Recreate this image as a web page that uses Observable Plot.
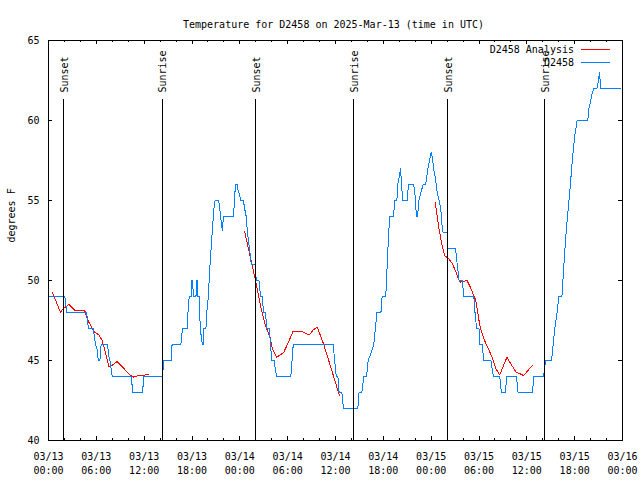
<!DOCTYPE html>
<html><head><meta charset="utf-8">
<script src="https://cdn.jsdelivr.net/npm/d3@7"></script>
<script src="https://cdn.jsdelivr.net/npm/@observablehq/plot@0.6"></script>
<style>body{margin:0;background:#fff} svg{display:block} svg path, svg line{shape-rendering:crispEdges}</style>
</head><body><div id="chart"></div>
<script>
const chartTitle = "Temperature for D2458 on 2025-Mar-13 (time in UTC)";
const yLabel = "degrees F";
const startTime = "2025-03-13T00:00:00Z";
const seriesNames = ["D2458 Analysis", "D2458"];
const seriesColors = ["#ff0000", "#0080ff"];

// observed (hours since start, deg F)
const obsHours = [0,2.05,2.3,4.77,4.9,5.0,5.6,5.75,5.9,6.1,6.25,6.45,6.6,7.4,7.55,7.7,8.0,10.4,10.55,11.8,11.95,14.3,14.45,15.4,15.5,16.6,16.8,17.4,17.5,17.65,17.9,17.95,18.1,18.15,18.5,18.55,18.7,18.75,18.9,19.0,19.15,19.3,19.4,19.5,19.75,19.85,20.05,20.2,20.4,20.6,20.75,20.9,21.35,21.5,21.8,21.95,23.2,23.3,23.45,23.65,23.8,24.0,24.1,24.45,24.6,24.8,24.95,25.2,25.45,25.95,26.05,26.4,26.6,26.85,26.95,27.2,27.4,27.7,27.85,28.0,28.3,28.6,30.4,30.55,30.7,35.7,35.9,36.1,36.3,36.45,36.8,37.0,38.8,38.95,39.3,39.55,39.9,40.1,40.5,40.8,41.0,41.2,41.7,41.85,42.3,42.4,42.55,42.7,42.8,43.3,43.4,43.7,43.8,44.0,44.15,44.3,44.4,45.0,45.15,45.8,45.95,46.15,46.3,46.45,46.7,47.0,47.3,47.45,47.6,47.8,48.0,48.15,48.3,48.5,48.75,49.0,49.2,49.35,49.5,50.0,50.1,51.05,51.27,51.5,51.9,52.1,53.35,53.5,53.7,54.0,54.1,54.4,54.6,55.5,55.8,56.6,56.8,57.3,57.5,58.7,58.9,60.7,60.9,62.1,62.35,63.1,63.3,63.5,63.8,64.0,64.4,64.6,64.85,65.1,65.4,65.7,66.0,66.3,67.65,67.8,68.0,68.2,68.4,68.8,69.0,69.1,69.2,69.3,71.75];
const obsTemps = [49,49,48,48,47.5,47,47,46.5,46,45.7,45,45,46,46,45.3,45,44,44,43,43,44,44,45,45,46,46,47,47,48,49,49,50,50,49,49,50,50,49,49,47.5,46.5,46,46,47,47,48,49,50.5,52,53.5,54.5,55,55,54.4,53.1,54,54,54.8,56,56,55.6,55.3,55,55,54.5,54,53,52,51,51,50,50,49,49,48,48,47,47,46,45,45,44,44,45,46,46,45,44,44,43,43,42,42,43,43,44,44,45,45.5,46,47,48,48,49,49,50,51.7,53.2,54,54,55,55,56,56.5,57,56,55,55,56,56,55.5,54,54,55,55.5,56,56,56.5,57,57.5,58,57.7,57,56.5,55.5,55,54.5,53.5,53,53,52,52,51,50,50,49,49,48,47,47,46,46,45,45,44,44,43,43,44,44,43,43,44,44,45,45,46,47,48,49,49,50.6,52.5,54,55.6,57.5,59,60,60,60.8,61.2,61.7,62,62,62.5,63,62.5,62,62];

// analysis (null = gap)
const anaHours = [0.5,1.5,1.75,2.55,3.4,4.56,4.85,5.27,5.7,6.3,6.73,7.15,7.57,8.0,8.6,9.45,10.3,10.7,11.1,11.95,12.1,12.6,null,24.6,25.3,25.97,26.6,27.2,27.76,28.05,28.6,29.5,30.1,30.65,31.8,32.7,33.2,33.7,34.5,35.4,36.5,null,48.5,48.96,49.4,49.7,50.2,50.6,51.05,51.5,51.7,52.5,52.9,53.6,54.0,54.2,54.6,55.2,55.65,56.1,56.6,57.5,58.6,59.6,60.7];
const anaTemps = [49.25,48.0,48.2,48.5,48.1,48.1,47.6,47.2,46.8,46.6,46.25,45.5,44.6,44.7,44.94,44.5,44.06,43.96,44.04,44.04,44.1,44.1,null,53.06,51.5,50.0,48.4,47.2,46.5,45.8,45.2,45.5,46.15,46.8,46.8,46.6,46.9,47.1,46.04,44.6,42.8,null,54.9,53.3,52.1,51.56,51.35,51.1,50.6,50.0,49.9,50.0,49.6,48.75,47.5,47.0,46.35,45.7,45.2,44.5,44.1,45.2,44.3,44.06,44.7];

const sunEventNames = ["Sunset","Sunrise","Sunset","Sunrise","Sunset","Sunrise"];
const sunEventHours = [1.9,14.25,26.0,38.28,50.07,62.24];

const xMajorHours = [0,6,12,18,24,30,36,42,48,54,60,66,72];
const xMinorHours = [2,4,8,10,14,16,20,22,26,28,32,34,38,40,44,46,50,52,56,58,62,64,68,70];
const yTicks = [40,45,50,55,60,65];

const t0 = Date.parse(startTime);
const toDate = h => h == null ? null : new Date(t0 + h * 3600e3);
const obs = obsHours.map((h, i) => ({t: toDate(h), v: obsTemps[i]}));
const ana = anaHours.map((h, i) => ({t: toDate(h), v: anaTemps[i]}));
const sun = sunEventHours.map((h, i) => ({t: toDate(h), name: sunEventNames[i]}));
const majors = xMajorHours.map(toDate);
const minors = xMinorHours.map(toDate);
const fmt = d3.utcFormat("%m/%d\n%H:%M");
const FONT = "DejaVu Sans Mono";

function legendMark(index, scales, values, dims) {
  const g = d3.create("svg:g").attr("font-family", FONT).attr("font-size", 10);
  const xr = dims.width - dims.marginRight;
  seriesNames.forEach((name, i) => {
    const y = dims.marginTop + 9.5 + i * 13;
    g.append("text").attr("x", xr - 48).attr("y", y).attr("dy", "0.32em")
      .attr("text-anchor", "end").attr("fill", "black").text(name);
    g.append("line").attr("x1", xr - 41).attr("x2", xr - 12)
      .attr("y1", y).attr("y2", y).attr("stroke", seriesColors[i]).attr("stroke-width", 1);
  });
  return g.node();
}

const chart = Plot.plot({
  width: 640, height: 480,
  marginTop: 40, marginRight: 18, marginBottom: 40, marginLeft: 48,
  style: {fontFamily: FONT, fontSize: "10px", background: "white", color: "black"},
  x: {type: "utc", domain: [toDate(0), toDate(72)], axis: null},
  y: {domain: [40, 65], axis: null},
  marks: [
    Plot.line(ana, {x: "t", y: "v", stroke: seriesColors[0], strokeWidth: 1, curve: "linear"}),
    Plot.line(obs, {x: "t", y: "v", stroke: seriesColors[1], strokeWidth: 1, curve: "linear"}),
    Plot.ruleX(sun, {x: "t", insetTop: 59, stroke: "black", strokeWidth: 1}),
    Plot.text(sun, {x: "t", text: "name", frameAnchor: "top", rotate: -90, textAnchor: "start", lineAnchor: "middle", dy: 52, dx: 1, fill: "black"}),
    Plot.frame({stroke: "black", strokeWidth: 1}),
    // inward ticks
    Plot.ruleX(majors, {x: d => d, insetTop: 396, stroke: "black"}),
    Plot.ruleX(majors, {x: d => d, insetBottom: 396, stroke: "black"}),
    Plot.ruleX(minors, {x: d => d, insetTop: 398, stroke: "black"}),
    Plot.ruleX(minors, {x: d => d, insetBottom: 398, stroke: "black"}),
    Plot.ruleY(yTicks, {y: d => d, insetRight: 570, stroke: "black"}),
    Plot.ruleY(yTicks, {y: d => d, insetLeft: 570, stroke: "black"}),
    // tick labels
    Plot.text(majors, {x: d => d, text: d => fmt(d), frameAnchor: "bottom", lineAnchor: "top", dy: 10, lineHeight: 1.4, fill: "black"}),
    Plot.text(yTicks, {y: d => d, text: d => String(d), frameAnchor: "left", textAnchor: "end", dx: -9, fill: "black"}),
    Plot.text([yLabel], {text: d => d, frameAnchor: "left", rotate: -90, dx: -37, dy: 2, fill: "black"}),
    Plot.text([chartTitle], {text: d => d, frameAnchor: "top", dy: -20, dx: -2, fill: "black"}),
    legendMark
  ]
});
document.getElementById("chart").append(chart);
</script>
</body></html>
